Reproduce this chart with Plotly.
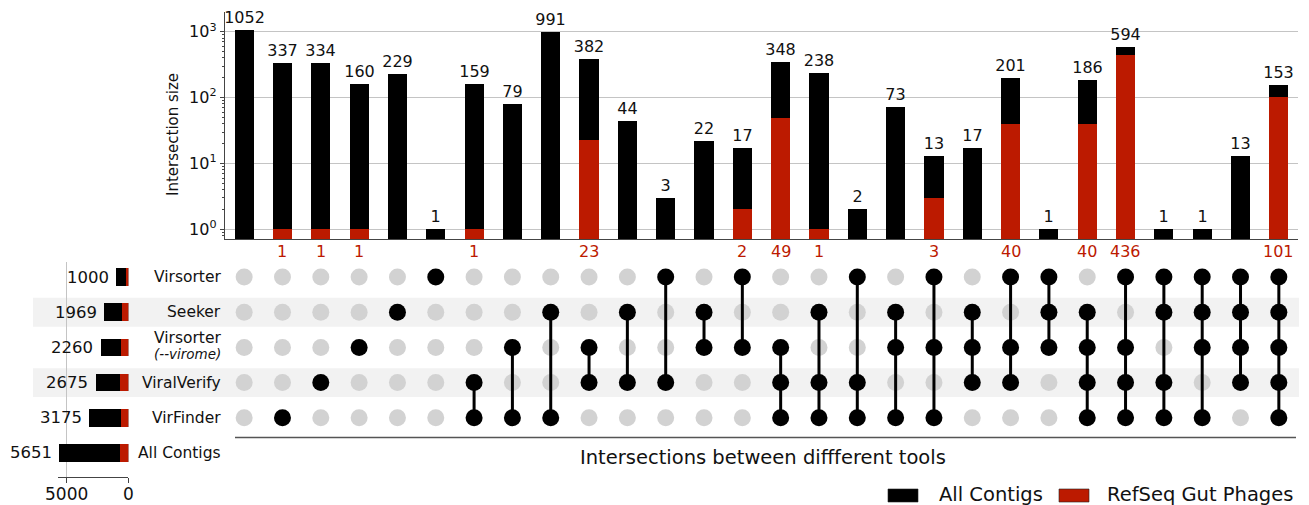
import plotly.graph_objects as go

# ---------------- data ----------------
# intersections (columns), left to right
intersection_total = [1052, 337, 334, 160, 229, 1, 159, 79, 991, 382, 44, 3, 22, 17,
                      348, 238, 2, 73, 13, 17, 201, 1, 186, 594, 1, 1, 13, 153]
intersection_refseq = [0, 1, 1, 1, 0, 0, 1, 0, 0, 23, 0, 0, 0, 2,
                       49, 1, 0, 0, 3, 0, 40, 0, 40, 436, 0, 0, 0, 101]
# tools present in each intersection (row indices into tool_names)
intersection_members = [
    [], [4], [3], [2], [1], [0],
    [3, 4], [2, 4], [1, 4], [2, 3], [1, 3], [0, 3], [1, 2], [0, 2],
    [2, 3, 4], [1, 3, 4], [0, 3, 4], [1, 2, 4], [0, 2, 4], [1, 2, 3], [0, 2, 3], [0, 1, 2],
    [1, 2, 3, 4], [0, 2, 3, 4], [0, 1, 3, 4], [0, 1, 2, 4], [0, 1, 2, 3], [0, 1, 2, 3, 4],
]

# tools (rows), top to bottom; the last row is the full contig set
tool_names = ["Virsorter", "Seeker", "Virsorter", "ViralVerify", "VirFinder", "All Contigs"]
tool_subtitles = ["", "", "(--virome)", "", "", ""]
tool_total = [1000, 1969, 2260, 2675, 3175, 5651]
tool_refseq = [190, 540, 600, 690, 640, 699]

y_tickvals = [1, 10, 100, 1000]
y_ticktext = ["10<sup>0</sup>", "10<sup>1</sup>", "10<sup>2</sup>", "10<sup>3</sup>"]
size_tickvals = [0, 5000]

series_names = ["All Contigs", "RefSeq Gut Phages"]
x_title = "Intersections between diffferent tools"
y_title = "Intersection size"

# ---------------- style ----------------
W, H = 1309, 505
BLACK = "#000000"
RED = "#BC1A00"
TXT = "#111111"
AX = "#444444"
GRID = "#c4c4c4"
DOT_OFF = "#d2d2d2"
BAND = "#f2f2f2"
FONT = "DejaVu Sans"


def px_x(p):
    return p / W


def px_y(p):
    return (H - p) / H


n_cols = len(intersection_total)
n_sets = len(tool_names) - 1
cols = list(range(n_cols))

fig = go.Figure()

# ---- intersection size bars (log scale) ----
fig.add_trace(go.Bar(
    x=cols, y=intersection_total, width=0.5, marker=dict(color=BLACK, line=dict(width=0)),
    text=[str(v) for v in intersection_total], textposition="outside",
    constraintext="none", textfont=dict(size=16, color=TXT, family=FONT), cliponaxis=False,
    name=series_names[0], xaxis="x", yaxis="y",
))
fig.add_trace(go.Bar(
    x=cols, y=[v if v > 0 else None for v in intersection_refseq], width=0.5,
    marker=dict(color=RED, line=dict(width=0)), name=series_names[1],
    xaxis="x", yaxis="y",
))

# ---- membership matrix ----
off_x, off_y, on_x, on_y, lx, ly = [], [], [], [], [], []
for c, mem in enumerate(intersection_members):
    for r in range(n_sets):
        if r in mem:
            on_x.append(c)
            on_y.append(r)
        else:
            off_x.append(c)
            off_y.append(r)
    if len(mem) > 1:
        lx += [c, c, None]
        ly += [min(mem), max(mem), None]

fig.add_trace(go.Scatter(x=off_x, y=off_y, mode="markers",
                         marker=dict(size=17, color=DOT_OFF, line=dict(width=0)),
                         xaxis="x2", yaxis="y2", hoverinfo="skip"))
fig.add_trace(go.Scatter(x=lx, y=ly, mode="lines", line=dict(color=BLACK, width=3),
                         xaxis="x2", yaxis="y2", hoverinfo="skip"))
fig.add_trace(go.Scatter(x=on_x, y=on_y, mode="markers",
                         marker=dict(size=17, color=BLACK, line=dict(width=0)),
                         xaxis="x2", yaxis="y2", hoverinfo="skip"))

# ---- set size bars (horizontal, reversed) ----
rows = list(range(len(tool_names)))
fig.add_trace(go.Bar(x=tool_total, y=rows, orientation="h", width=0.5,
                     marker=dict(color=BLACK, line=dict(width=0)),
                     xaxis="x3", yaxis="y3"))
fig.add_trace(go.Bar(x=tool_refseq, y=rows, orientation="h", width=0.5,
                     marker=dict(color=RED, line=dict(width=0)),
                     xaxis="x3", yaxis="y3"))

# ---------------- axes ----------------
x_dom = [px_x(225), px_x(1298)]
minor_vals = [0.8, 0.9] + [k * 10 ** e for e in range(3) for k in range(2, 10)]

annotations = []
shapes = []

# shaded bands behind alternating rows
for r in (1, 3):
    shapes.append(dict(type="rect", xref="paper", yref="y2", x0=px_x(33), x1=px_x(1299),
                       y0=r - 0.41, y1=r + 0.41, fillcolor=BAND, line=dict(width=0),
                       layer="below"))

# line under the matrix
shapes.append(dict(type="line", xref="paper", yref="paper", x0=px_x(235), x1=px_x(1296),
                   y0=px_y(437.5), y1=px_y(437.5), line=dict(color="#555555", width=1.6)))

# row labels
for r, name in enumerate(tool_names):
    if tool_subtitles[r]:
        annotations.append(dict(xref="paper", yref="y2", x=px_x(223), y=r - 0.28, text=name,
                                xanchor="right", yanchor="middle", showarrow=False,
                                font=dict(size=15.5, color=TXT)))
        annotations.append(dict(xref="paper", yref="y2", x=px_x(223), y=r + 0.18,
                                text="<i>" + tool_subtitles[r] + "</i>",
                                xanchor="right", yanchor="middle", showarrow=False,
                                font=dict(size=13.5, color=TXT)))
    else:
        annotations.append(dict(xref="paper", yref="y2", x=px_x(223), y=r, text=name,
                                xanchor="right", yanchor="middle", showarrow=False,
                                font=dict(size=15.5, color=TXT)))

# set size value labels
for r, v in enumerate(tool_total):
    annotations.append(dict(xref="x3", yref="y3", x=v, y=r, text=str(v), xanchor="right",
                            yanchor="middle", xshift=-5, showarrow=False,
                            font=dict(size=16.5, color=TXT)))

# tick labels of the set size axis
for v in size_tickvals:
    annotations.append(dict(xref="x3", yref="paper", x=v, y=px_y(494), text=str(v),
                            xanchor="center", yanchor="middle", showarrow=False,
                            borderpad=0, font=dict(size=17, color=TXT)))

# RefSeq counts under the bars
for c, v in enumerate(intersection_refseq):
    if v > 0:
        annotations.append(dict(xref="x", yref="paper", x=c, y=px_y(251), text=str(v),
                                xanchor="center", yanchor="middle", showarrow=False,
                                font=dict(size=16, color=RED)))

# axis titles
annotations.append(dict(xref="paper", yref="paper", x=px_x(173), y=px_y(135), text=y_title,
                        textangle=-90, xanchor="center", yanchor="middle", showarrow=False,
                        font=dict(size=15, color=TXT)))
annotations.append(dict(xref="paper", yref="paper", x=px_x(763), y=px_y(457), text=x_title,
                        xanchor="center", yanchor="middle", showarrow=False,
                        font=dict(size=19.5, color=TXT)))

# legend
legend_items = [(888, 918, 938, BLACK, series_names[0]), (1059, 1089, 1106, RED, series_names[1])]
for x0, x1, tx, col, label in legend_items:
    shapes.append(dict(type="rect", xref="paper", yref="paper", x0=px_x(x0), x1=px_x(x1),
                       y0=px_y(502), y1=px_y(489), fillcolor=col,
                       line=dict(color="#222222", width=0.6)))
    annotations.append(dict(xref="paper", yref="paper", x=px_x(tx), y=px_y(494.5), text=label,
                            xanchor="left", yanchor="middle", showarrow=False, borderpad=0,
                            font=dict(size=19.5, color=TXT)))

fig.update_layout(
    width=W, height=H, margin=dict(l=0, r=0, t=0, b=0, pad=0, autoexpand=False),
    paper_bgcolor="white", plot_bgcolor="rgba(0,0,0,0)",
    barmode="overlay", showlegend=False, bargap=0,
    font=dict(family=FONT, color=TXT),
    xaxis=dict(domain=x_dom, range=[-0.5, n_cols - 0.5], showgrid=False, showticklabels=False,
               ticks="", showline=True, linecolor=AX, linewidth=1.4, zeroline=False,
               anchor="y", automargin=False),
    yaxis=dict(domain=[px_y(239.3), px_y(12)], type="log", range=[-0.152, 3.299],
               tickmode="array", tickvals=y_tickvals, ticktext=y_ticktext,
               ticks="outside", ticklen=4, tickwidth=1.2, tickcolor=AX,
               showline=True, linecolor=AX, linewidth=1.4,
               showgrid=True, gridcolor=GRID, gridwidth=1.3, zeroline=False,
               tickfont=dict(size=16, color=TXT),
               minor=dict(tickmode="array", tickvals=minor_vals, ticks="outside", ticklen=2,
                          tickwidth=0.8, tickcolor=AX, showgrid=False),
               anchor="x", automargin=False),
    xaxis2=dict(domain=x_dom, range=[-0.5, n_cols - 0.5], visible=False, anchor="y2",
                automargin=False),
    yaxis2=dict(domain=[px_y(470.6), px_y(259.4)], range=[5.5, -0.5], visible=False,
                anchor="x2", automargin=False),
    xaxis3=dict(domain=[px_x(57.8), px_x(128.3)], range=[5720, 0], tickmode="array",
                tickvals=size_tickvals, showticklabels=False,
                ticks="outside", ticklen=5, tickwidth=1.2, tickcolor=AX,
                showline=True, linecolor=AX, linewidth=1.4,
                showgrid=True, gridcolor=GRID, gridwidth=1.2, zeroline=False,
                anchor="y3", automargin=False),
    yaxis3=dict(domain=[px_y(477), px_y(262)], range=[5.682, -0.426], visible=False,
                anchor="x3", automargin=False),
    shapes=shapes,
    annotations=annotations,
)

fig.write_html("out.html")
